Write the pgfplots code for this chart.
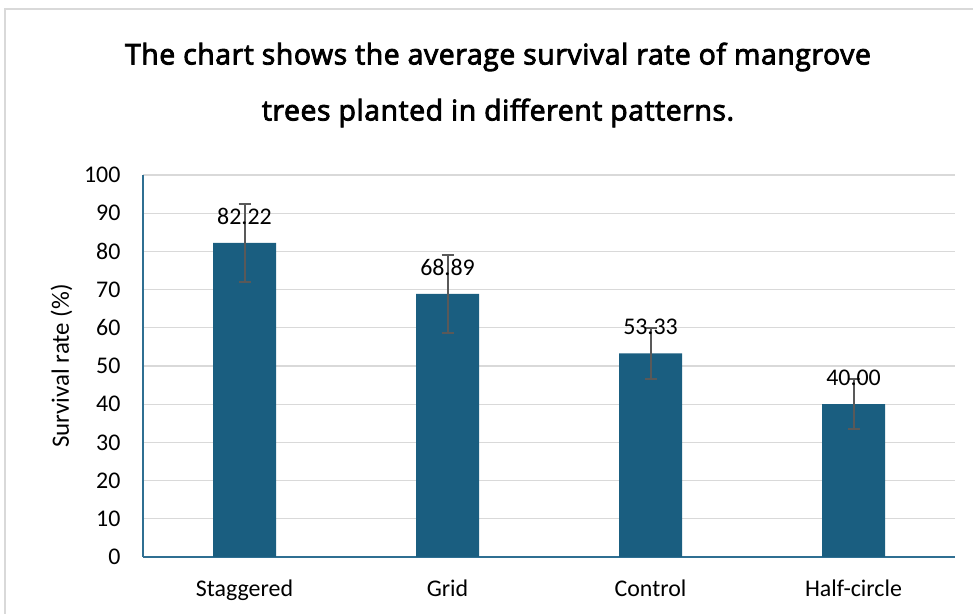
\documentclass[border=0pt]{standalone}
\usepackage{pgfplots}
\pgfplotsset{compat=1.18}
\usepackage{pgfplotstable}
\usepackage{fontspec}
\setmainfont{Carlito}
\newfontfamily\titlefont{Open Sans}[FakeBold=3, LetterSpace=2]
\definecolor{barblue}{HTML}{1A5E80}
\definecolor{gridgray}{HTML}{D9D9D9}
\definecolor{errgray}{HTML}{595959}
\definecolor{axisblue}{HTML}{2F6F92}
\pgfplotstableread{
x y err
0 82.22 10.2
1 68.89 10.2
2 53.33 6.7
3 40.00 6.6
}\datatable
\begin{document}
\begin{tikzpicture}[x=1bp,y=1bp]
\useasboundingbox (0,0) rectangle (973,614);
\draw[gridgray, line width=1.2bp] (5,0) -- (5,605) -- (973,605);
\node[font=\titlefont\fontsize{28.5}{30}\selectfont, text=black] at (498,557) {The chart shows the average survival rate of mangrove};
\node[font=\titlefont\fontsize{28.5}{30}\selectfont, text=black] at (498,501) {trees planted in different patterns.};
\begin{axis}[
  at={(143bp,57bp)}, anchor=south west,
  scale only axis, width=812bp, height=382bp,
  xmin=-0.5, xmax=3.5, ymin=0, ymax=100,
  xtick=data, xticklabels={Staggered,Grid,Control,Half-circle},
  ytick={0,10,...,100},
  axis x line*=bottom, axis y line*=left,
  axis line style={axisblue, line width=1.2bp, -},
  major tick length=0pt,
  ymajorgrids, grid style={gridgray, line width=1.2bp},
  ticklabel style={font=\fontsize{24}{27}\selectfont, text=black},
  /pgf/number format/assume math mode=true,
  xticklabel style={yshift=-19bp},
  yticklabel style={xshift=-19bp},
  ylabel={Survival rate (\%)},
  ylabel style={font=\fontsize{25}{28}\selectfont, text=black},
  ylabel shift=5bp,
  ybar, bar width=63bp, bar shift=0pt,
  clip=false,
]
\addplot[fill=barblue, draw=none,
  nodes near coords={\pgfmathprintnumber[fixed,fixed zerofill,precision=2]{\pgfplotspointmeta}},
  every node near coord/.append style={font=\fontsize{24}{27}\selectfont, text=black, anchor=center, yshift=26bp},
] table[x=x,y=y] {\datatable};
\addplot[draw=none, fill=none, forget plot,
  error bars/.cd, y dir=both, y explicit,
  error bar style={errgray, line width=2bp},
  error mark options={errgray, line width=2bp, rotate=90, mark size=6bp},
] table[x=x,y=y,y error=err] {\datatable};
\end{axis}
\end{tikzpicture}
\end{document}
